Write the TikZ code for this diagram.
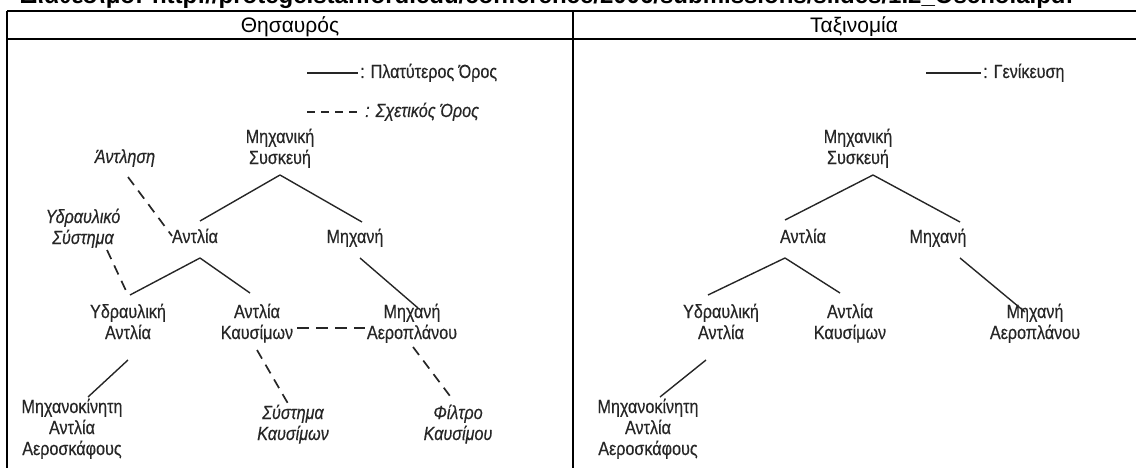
\documentclass[tikz,border=0pt]{standalone}
\usepackage{fontspec}
\setmainfont{Liberation Sans}
\newfontfamily\narrowf[FakeStretch=0.85,FakeBold=0.4]{Liberation Sans}
\usetikzlibrary{calc}
\definecolor{ink}{HTML}{262626}
\newcommand\ml[1]{\begin{tabular}[t]{@{}c@{}}#1\end{tabular}}
\tikzset{
  term/.style={anchor=base, inner sep=0pt, text=ink, font=\narrowf\fontsize{19}{21}\selectfont},
  rel/.style={term, font=\narrowf\itshape\fontsize{19}{21}\selectfont},
  leg/.style={term, anchor=base west},
  legi/.style={rel, anchor=base west},
  broader/.style={draw=ink, line width=1.4pt},
  related/.style={draw=ink, line width=1.7pt, dash pattern=on 9pt off 6pt},
  gridline/.style={draw=black, line width=2pt},
  head/.style={anchor=base, inner sep=0pt, font=\fontsize{21}{23}\selectfont},
  source/.style={anchor=base west, inner sep=0pt, font=\bfseries\fontsize{24}{26}\selectfont}
}
\begin{document}
\begin{tikzpicture}[x=1pt,y=-1pt]
\useasboundingbox (0,0) rectangle (1136,468);
\clip (0,0) rectangle (1136,468);
% source line (cut off at the top)
\node[source] (src) at (20,4) {Διαθέσιμο: http://protege.stanford.edu/conference/2006/submissions/slides/1.2\_Oscnola.pdf};
% table
\coordinate (tl) at (7,11);
\coordinate (tr) at (1136,11);
\coordinate (hl) at (7,39);
\coordinate (hr) at (1136,39);
\coordinate (bl) at (7,468);
\coordinate (dt) at (573,11);
\coordinate (db) at (573,468);
\draw[gridline] (tl) -- (tr);
\draw[gridline] (hl) -- (hr);
\draw[gridline] (tl) -- (bl);
\draw[gridline] (dt) -- (db);
\node[head] (h1) at (290,33) {Θησαυρός};
\node[head] (h2) at (854,33) {Ταξινομία};

% ===== left panel: thesaurus =====
\coordinate (l1a) at (307,73); \coordinate (l1b) at (358,73);
\draw[broader] (l1a) -- (l1b);
\node[leg] (l1t) at (360,78) {: Πλατύτερος Όρος};
\coordinate (l2a) at (307,112); \coordinate (l2b) at (358,112);
\draw[related, dash pattern=on 8pt off 6pt] (l2a) -- (l2b);
\node[legi] (l2t) at (365,117) {: Σχετικός Όρος};

\node[term] (ms) at (280,143) {\ml{Μηχανική\\Συσκευή}};
\node[rel]  (antl) at (125,163) {Άντληση};
\node[rel]  (ys) at (83,223) {\ml{Υδραυλικό\\Σύστημα}};
\node[term] (an) at (195,243) {Αντλία};
\node[term] (mi) at (355,243) {Μηχανή};
\node[term] (ya) at (128,318) {\ml{Υδραυλική\\Αντλία}};
\node[term] (ak) at (257,318) {\ml{Αντλία\\Καυσίμων}};
\node[term] (ma) at (412,318) {\ml{Μηχανή\\Αεροπλάνου}};
\node[term] (mk) at (72,413) {\ml{Μηχανοκίνητη\\Αντλία\\Αεροσκάφους}};
\node[rel]  (sk) at (293,419) {\ml{Σύστημα\\Καυσίμων}};
\node[rel]  (fk) at (458,419) {\ml{Φίλτρο\\Καυσίμου}};

\draw[broader] ($(ms.base)+(0,32)$) -- ($(an.base)+(5,-22)$);
\draw[broader] ($(ms.base)+(0,32)$) -- ($(mi.base)+(7,-21)$);
\draw[related, dash pattern=on 10pt off 7pt] ($(antl.base)+(3,14)$) -- ($(an.base)+(-23,-7)$);
\draw[broader] ($(an.base)+(5,15)$) -- ($(ya.base)+(2,-23)$);
\draw[broader] ($(an.base)+(5,15)$) -- ($(ak.base)+(-7,-25)$);
\draw[related, dash pattern=on 10pt off 7pt] ($(ys.base)+(24,27)$) -- ($(ya.base)+(0,-23)$);
\draw[broader] ($(mi.base)+(5,15)$) -- ($(ma.base)+(6,-10)$);
\draw[related, dash pattern=on 12pt off 7pt] ($(ak.base)+(40,10)$) -- ($(ma.base)+(-47,10)$);
\draw[broader] ($(ya.base)+(0,42)$) -- ($(mk.base)+(16,-16)$);
\draw[related, dash pattern=on 10pt off 7pt] ($(ak.base)+(0,32)$) -- ($(sk.base)+(-3,-12)$);
\draw[related, dash pattern=on 10pt off 7pt] ($(ma.base)+(1,29)$) -- ($(fk.base)+(-5,-19)$);

% ===== right panel: taxonomy =====
\coordinate (r1a) at (926,73); \coordinate (r1b) at (981,73);
\draw[broader] (r1a) -- (r1b);
\node[leg] (r1t) at (983,78) {: Γενίκευση};

\node[term] (rms) at (858,143) {\ml{Μηχανική\\Συσκευή}};
\node[term] (ran) at (803,243) {Αντλία};
\node[term] (rmi) at (938,243) {Μηχανή};
\node[term] (rya) at (721,318) {\ml{Υδραυλική\\Αντλία}};
\node[term] (rak) at (850,318) {\ml{Αντλία\\Καυσίμων}};
\node[term] (rma) at (1035,318) {\ml{Μηχανή\\Αεροπλάνου}};
\node[term] (rmk) at (648,413) {\ml{Μηχανοκίνητη\\Αντλία\\Αεροσκάφους}};

\draw[broader] ($(rms.base)+(15,32)$) -- ($(ran.base)+(-18,-23)$);
\draw[broader] ($(rms.base)+(15,32)$) -- ($(rmi.base)+(22,-21)$);
\draw[broader] ($(ran.base)+(-18,15)$) -- ($(rya.base)+(-13,-23)$);
\draw[broader] ($(ran.base)+(-18,15)$) -- ($(rak.base)+(-10,-25)$);
\draw[broader] ($(rmi.base)+(22,15)$) -- ($(rma.base)+(-10,-6)$);
\draw[broader] ($(rya.base)+(-15,42)$) -- ($(rmk.base)+(12,-16)$);
\end{tikzpicture}
\end{document}
